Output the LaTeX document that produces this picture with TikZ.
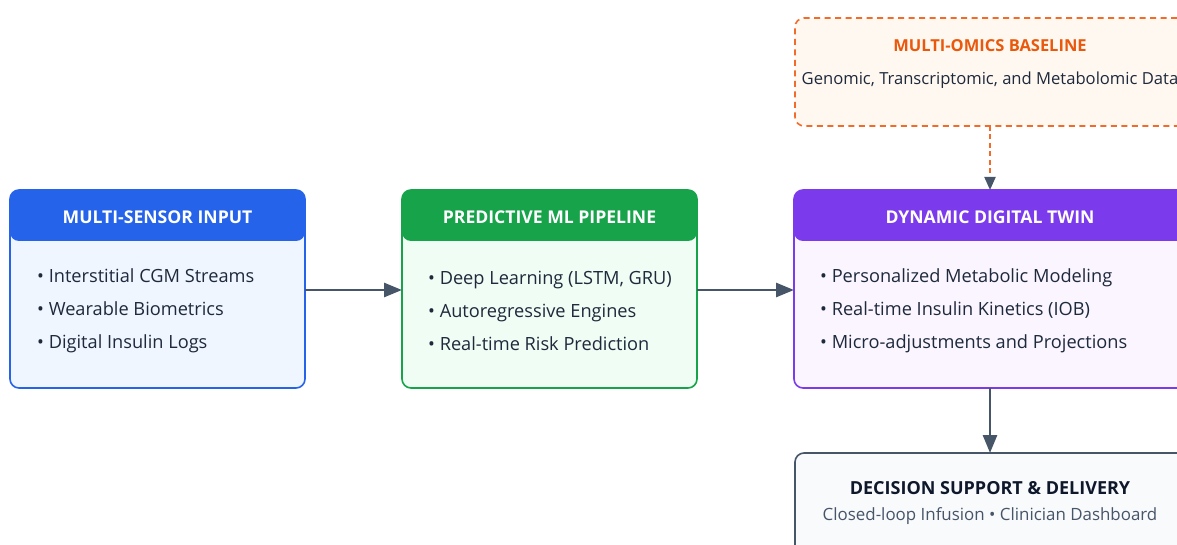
\documentclass[tikz,border=0pt]{standalone}
\usepackage{fontspec}
\setmainfont{Open Sans}
\usetikzlibrary{arrows.meta}

\definecolor{sensorblue}{HTML}{2563EB}
\definecolor{sensorbg}{HTML}{EFF6FF}
\definecolor{mlgreen}{HTML}{16A34A}
\definecolor{mlbg}{HTML}{F0FDF4}
\definecolor{twinpurple}{HTML}{7C3AED}
\definecolor{twinbg}{HTML}{FAF5FF}
\definecolor{omicsorange}{HTML}{EA580C}
\definecolor{omicsdash}{HTML}{F26B2A}
\definecolor{omicsbg}{HTML}{FFF8F1}
\definecolor{slate}{HTML}{475569}
\definecolor{ink}{HTML}{1E293B}
\definecolor{darkink}{HTML}{0F172A}
\definecolor{decisionbg}{HTML}{F8FAFC}

\tikzset{
  card/.style n args={2}{draw=#1, fill=#2, rounded corners=9pt, line width=1.6pt,
    minimum width=295pt, minimum height=198pt, outer sep=0pt, inner sep=0pt,
    path picture={\fill[#1] (path picture bounding box.north west)
      rectangle ([yshift=-51pt]path picture bounding box.north east);}},
  cardtitle/.style={text=white, font=\bfseries\fontsize{17.6}{20}\selectfont},
  itemlist/.style={anchor=west, align=left, inner sep=0pt, text=ink,
    font=\fontsize{18.2}{33}\selectfont},
  flow/.style={-{Triangle[length=18pt,width=14pt]}, line width=2.8pt, draw=slate},
}

\begin{document}
\begin{tikzpicture}[x=1pt, y=-1pt]
  \useasboundingbox (0,0) rectangle (1177,545);
  \clip (0,0) rectangle (1177,545);

  % drei Hauptkarten:
  \node[card={sensorblue}{sensorbg}] (sensor) at (157.5,289) {};
  \node[card={mlgreen}{mlbg}] (pipeline) at (549.5,289) {};
  \node[card={twinpurple}{twinbg}, minimum width=392pt] (twin) at (990,289) {};

  % Kopfzeilen:
  \node[cardtitle] (sensortitle) at ([yshift=-27.5pt]sensor.north) {MULTI-SENSOR INPUT};
  \node[cardtitle] (pipelinetitle) at ([yshift=-27.5pt]pipeline.north) {PREDICTIVE ML PIPELINE};
  \node[cardtitle] (twintitle) at ([yshift=-27.5pt]twin.north) {DYNAMIC DIGITAL TWIN};

  % Aufzaehlungen:
  \node[itemlist] (sensoritems) at (37,311)
    {• Interstitial CGM Streams\\• Wearable Biometrics\\• Digital Insulin Logs};
  \node[itemlist] (pipelineitems) at (428,311)
    {• Deep Learning (LSTM, GRU)\\• Autoregressive Engines\\• Real-time Risk Prediction};
  \node[itemlist] (twinitems) at (820,311)
    {• Personalized Metabolic Modeling\\• Real-time Insulin Kinetics (IOB)\\• Micro-adjustments and Projections};

  % Multi-Omics oben:
  \node[draw=omicsdash, fill=omicsbg, rounded corners=9pt, line width=1.6pt,
    dash pattern=on 6pt off 4.5pt, minimum width=391pt, minimum height=108pt,
    outer sep=0pt] (omics) at (990.5,72) {};
  \node[text=omicsorange, font=\bfseries\fontsize{16.5}{20}\selectfont]
    (omicstitle) at (990,46) {MULTI-OMICS BASELINE};
  \node[text=ink, font=\fontsize{16.6}{20}\selectfont]
    (omicstext) at (990,80) {Genomic, Transcriptomic, and Metabolomic Data};

  % Entscheidung unten:
  \node[draw=slate, fill=decisionbg, rounded corners=9pt, line width=1.6pt,
    minimum width=391pt, minimum height=104pt, outer sep=0pt] (decision) at (990.5,505) {};
  \node[text=darkink, font=\bfseries\fontsize{18}{20}\selectfont]
    (decisiontitle) at (990,488) {DECISION SUPPORT \& DELIVERY};
  \node[text=slate, font=\fontsize{16.9}{20}\selectfont]
    (decisiontext) at (990,516) {Closed-loop Infusion • Clinician Dashboard};

  % Pfeile:
  \draw[flow] (sensor.east |- 0,290) -- (pipeline.west |- 0,290);
  \draw[flow] (pipeline.east |- 0,290) -- (twin.west |- 0,290);
  \draw[flow] (twin.south -| 990,0) -- (decision.north -| 990,0);
  \draw[line width=2pt, draw=omicsdash, dash pattern=on 5pt off 3.5pt,
    -{Triangle[length=13pt,width=11pt,color=slate,fill=slate]}]
    (omics.south -| 990,0) -- (twin.north -| 990,0);
\end{tikzpicture}
\end{document}
